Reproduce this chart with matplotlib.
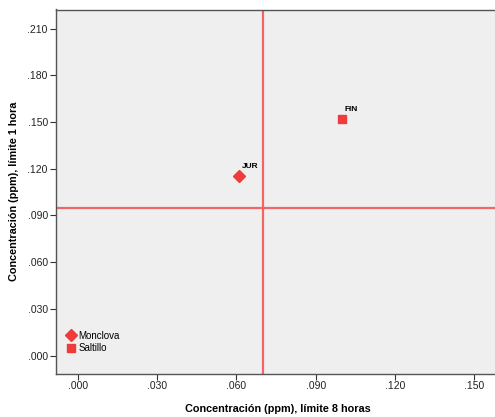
import matplotlib
matplotlib.use("Agg")
import matplotlib.pyplot as plt
from matplotlib.lines import Line2D

# Station averages: 8-hour limit concentration (x) vs 1-hour limit concentration (y)
stations = ["JUR", "FIN"]
cities = ["Monclova", "Saltillo"]
conc_8h = [0.061, 0.100]
conc_1h = [0.1155, 0.152]
markers = ["D", "s"]

# Reference limits drawn as crossing lines
limit_8h = 0.070
limit_1h = 0.095

x_ticks = [0.000, 0.030, 0.060, 0.090, 0.120, 0.150]
y_ticks = [0.000, 0.030, 0.060, 0.090, 0.120, 0.150, 0.180, 0.210]

red = "#ee3b3b"
line_red = "#f26466"

plt.rcParams["font.family"] = ["Liberation Sans", "DejaVu Sans"]

W, H = 495, 417
fig = plt.figure(figsize=(W / 100, H / 100), dpi=100)
left, right, top, bottom = 55.5, 500, 9.5, 373.5
ax = fig.add_axes([left / W, 1 - bottom / H, (right - left) / W, (bottom - top) / H])
ax.set_facecolor("#efefef")

ax.set_xlim(-0.0084, 0.1597)
ax.set_ylim(-0.0114, 0.2222)

ax.axvline(limit_8h, color=line_red, lw=1.6, zorder=1)
ax.axhline(limit_1h, color=line_red, lw=1.6, zorder=1)

for name, x, y, m in zip(stations, conc_8h, conc_1h, markers):
    ax.plot([x], [y], marker=m, color=red, ms=6.5 if m == "D" else 6, ls="none", zorder=3)
    ax.annotate(name, (x, y), xytext=(2, 4), textcoords="offset points",
                fontsize=6, fontweight="bold", ha="left", va="bottom")

ax.set_xticks(x_ticks)
ax.set_xticklabels([f"{v:.3f}".lstrip("0") for v in x_ticks])
ax.set_yticks(y_ticks)
ax.set_yticklabels([f"{v:.3f}".lstrip("0") for v in y_ticks])
ax.tick_params(axis="both", labelsize=7.5, length=4, width=0.8, color="#333333",
               labelcolor="#222222", pad=1.5)

for s in ["left", "bottom", "top"]:
    ax.spines[s].set_color("#555555")
    ax.spines[s].set_linewidth(1.0)
ax.spines["right"].set_visible(False)

ax.set_xlabel("Concentración (ppm), límite 8 horas", fontsize=7.8, fontweight="bold", labelpad=9)
ax.set_ylabel("Concentración (ppm), límite 1 hora", fontsize=7.8, fontweight="bold", labelpad=6)

handles = [Line2D([], [], marker=m, color=red, ls="none", ms=6 if m == "D" else 5.5)
           for m in markers]
leg = ax.legend(handles, cities, loc="lower left", bbox_to_anchor=(0.013, 0.039),
                frameon=False, fontsize=7, handlelength=0.8, handletextpad=0.35,
                labelspacing=0.3, borderaxespad=0.2)

fig.savefig("out.png", dpi=100, facecolor="white")
